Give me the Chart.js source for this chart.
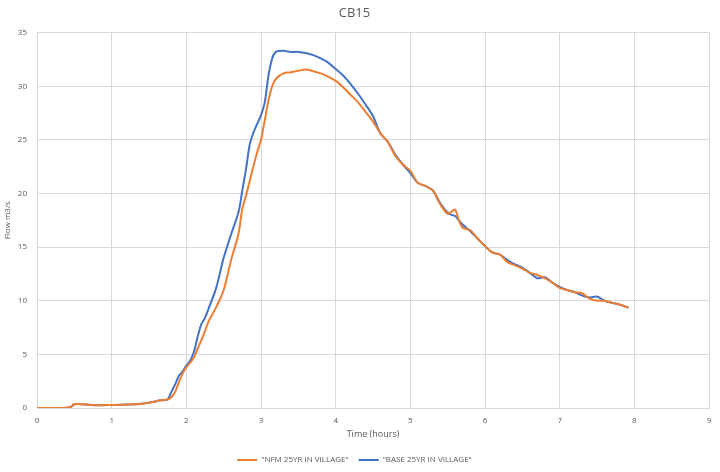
<!DOCTYPE html>
<html>
<head>
<meta charset="utf-8">
<script src="https://cdn.jsdelivr.net/npm/chart.js@4/dist/chart.umd.min.js"></script>
<style>
  html, body { margin: 0; padding: 0; background: #ffffff; }
  #wrap { position: relative; width: 720px; height: 472px; }
</style>
</head>
<body>
<div id="wrap"><canvas id="flowChart" width="720" height="472"></canvas></div>
<script>
// time (hours), shared by both series
const hours = [
  0, 0.2, 0.4, 0.45, 0.5, 0.55, 0.7, 0.8, 1.0, 1.2, 1.4, 1.55, 1.65, 1.75,
  1.8, 1.85, 1.9, 1.95, 2.0, 2.05, 2.1, 2.15, 2.2, 2.25, 2.3, 2.4, 2.5, 2.6,
  2.7, 2.75, 2.8, 2.85, 2.9, 2.95, 3.0, 3.05, 3.1, 3.15, 3.2, 3.3, 3.4, 3.5,
  3.6, 3.7, 3.8, 3.9, 4.0, 4.1, 4.2, 4.3, 4.4, 4.5, 4.6, 4.7, 4.8, 4.9, 5.0,
  5.1, 5.2, 5.3, 5.4, 5.5, 5.55, 5.6, 5.65, 5.7, 5.8, 5.9, 6.0, 6.1, 6.2, 6.3,
  6.4, 6.5, 6.6, 6.7, 6.8, 6.9, 7.0, 7.1, 7.2, 7.3, 7.4, 7.5, 7.6, 7.7, 7.8, 7.92
];

// "NFM 25YR IN VILLAGE" flow m3/s
const nfmFlow = [
  0, 0, 0.02, 0.1, 0.35, 0.37, 0.3, 0.25, 0.28, 0.32, 0.4, 0.55, 0.72, 0.8,
  1.0, 1.5, 2.4, 3.2, 3.8, 4.2, 4.7, 5.5, 6.3, 7.2, 8.1, 9.4, 11.0, 13.8,
  16.3, 18.6, 19.8, 21.2, 22.6, 23.9, 25.0, 26.8, 28.7, 30.0, 30.7, 31.2, 31.3, 31.45,
  31.55, 31.4, 31.2, 30.9, 30.5, 29.9, 29.2, 28.5, 27.6, 26.7, 25.6, 24.8, 23.5, 22.7, 22.1,
  21.0, 20.7, 20.3, 19.0, 18.1, 18.3, 18.5, 17.5, 16.8, 16.6, 15.8, 15.1, 14.5, 14.3, 13.6,
  13.3, 13.0, 12.6, 12.4, 12.1, 11.7, 11.2, 11.0, 10.8, 10.7, 10.2, 10.0, 10.0, 9.8, 9.65, 9.35
];

// "BASE 25YR IN VILLAGE" flow m3/s
const baseFlow = [
  0, 0, 0.02, 0.1, 0.35, 0.37, 0.3, 0.25, 0.28, 0.32, 0.4, 0.55, 0.72, 0.8,
  1.5, 2.2, 3.0, 3.4, 3.95, 4.4, 5.2, 6.6, 7.8, 8.4, 9.3, 11.2, 14.0, 16.2,
  18.3, 20.3, 22.3, 24.6, 25.7, 26.5, 27.3, 28.5, 31.0, 32.6, 33.2, 33.3, 33.2, 33.2,
  33.1, 32.9, 32.6, 32.2, 31.6, 31.0, 30.2, 29.3, 28.3, 27.2, 25.6, 24.8, 23.6, 22.7, 21.9,
  21.0, 20.7, 20.3, 19.1, 18.2, 18.0, 17.9, 17.5, 17.1, 16.5, 15.8, 15.1, 14.5, 14.3, 13.8,
  13.4, 13.1, 12.6, 12.1, 12.2, 11.7, 11.3, 11.0, 10.8, 10.5, 10.3, 10.4, 10.0, 9.8, 9.65, 9.35
];

const seriesLabels = ['"NFM 25YR IN VILLAGE"', '"BASE 25YR IN VILLAGE"'];
const xTicks = [0, 1, 2, 3, 4, 5, 6, 7, 8, 9];
const yTicks = [0, 5, 10, 15, 20, 25, 30, 35];

const toPoints = (vals) => vals.map((v, i) => ({ x: hours[i], y: v }));

const textGrey = "#595959";
const gridGrey = "#d9d9d9";

new Chart(document.getElementById("flowChart"), {
  type: "line",
  data: {
    datasets: [
      {
        label: seriesLabels[0],
        data: toPoints(nfmFlow),
        borderColor: "#ED7D31",
        backgroundColor: "#ED7D31",
        borderWidth: 2,
        pointRadius: 0,
        tension: 0.3,
      },
      {
        label: seriesLabels[1],
        data: toPoints(baseFlow),
        borderColor: "#4472C4",
        backgroundColor: "#4472C4",
        borderWidth: 2,
        pointRadius: 0,
        tension: 0.3,
      },
    ],
  },
  options: {
    responsive: false,
    animation: false,
    layout: { padding: { left: 0, right: 11, top: 0, bottom: -2 } },
    scales: {
      x: {
        type: "linear",
        min: 0,
        max: 9,
        afterBuildTicks: (axis) => { axis.ticks = xTicks.map((v) => ({ value: v })); },
        afterFit: (axis) => { axis.height = 38; },
        grid: { color: gridGrey, drawTicks: false },
        border: { color: gridGrey },
        ticks: { color: textGrey, font: { family: "Open Sans", size: 8 }, padding: 8 },
        title: {
          display: true,
          text: "Time (hours)",
          color: textGrey,
          font: { family: "Open Sans", size: 9 },
          padding: { top: 2, bottom: 6 },
        },
      },
      y: {
        min: 0,
        max: 35,
        afterBuildTicks: (axis) => { axis.ticks = yTicks.map((v) => ({ value: v })); },
        afterFit: (axis) => { axis.width = 37; },
        grid: { color: gridGrey, drawTicks: false },
        border: { color: gridGrey },
        ticks: { color: textGrey, font: { family: "Open Sans", size: 8 }, padding: 10 },
        title: {
          display: true,
          text: "Flow m3/s",
          color: textGrey,
          font: { family: "Open Sans", size: 8 },
          padding: { top: 3, bottom: 2 },
        },
      },
    },
    plugins: {
      title: {
        display: true,
        text: "CB15",
        color: textGrey,
        font: { family: "Open Sans", size: 13, weight: "normal" },
        padding: { top: 5, bottom: 12 },
      },
      legend: {
        position: "bottom",
        labels: {
          color: textGrey,
          font: { family: "Open Sans", size: 8 },
          usePointStyle: true,
          pointStyle: "line",
          pointStyleWidth: 20,
          boxWidth: 20,
          padding: 10,
        },
      },
      tooltip: { enabled: false },
    },
  },
});
</script>
</body>
</html>
